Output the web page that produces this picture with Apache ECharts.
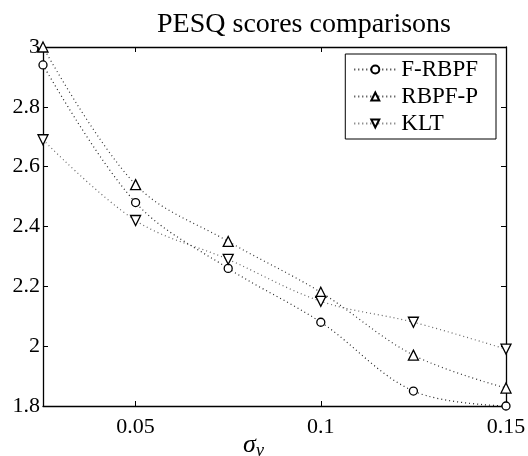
<!DOCTYPE html>
<html>
<head>
<meta charset="utf-8">
<script src="https://cdn.jsdelivr.net/npm/echarts@6/dist/echarts.min.js"></script>
<style>
  html, body { margin: 0; padding: 0; background: #fff; }
  #chart { width: 528px; height: 456px; }
</style>
</head>
<body>
<div id="chart"></div>
<script>
// noise std values on the x axis
const sigmaV = [0.025, 0.05, 0.075, 0.1, 0.125, 0.15];
// PESQ scores
const fRbpf = [2.94, 2.48, 2.26, 2.08, 1.85, 1.80];
const rbpfP = [3.00, 2.54, 2.35, 2.18, 1.97, 1.86];
const klt = [2.69, 2.42, 2.29, 2.15, 2.08, 1.99];
const xTicks = [0.05, 0.1, 0.15];

const serif = '"Liberation Serif", "DejaVu Serif", serif';
const downTri = 'path://M0,0 L10,0 L5,9 Z';

function pairs (ys) {
  return sigmaV.map((x, i) => [x, ys[i]]);
}

function mkSeries (name, ys, symbol, color) {
  return {
    name: name,
    type: 'line',
    data: pairs(ys),
    smooth: 0.35,
    clip: false,
    symbol: symbol,
    symbolSize: symbol === 'circle' ? 8 : 10,
    showAllSymbol: true,
    lineStyle: { color: color, width: 1.2, type: [1, 3] },
    itemStyle: { color: '#fff', borderColor: '#000', borderWidth: 1.3 }
  };
}

const chart = echarts.init(document.getElementById('chart'));
const option = {
  animation: false,
  backgroundColor: '#fff',
  textStyle: { fontFamily: serif },
  title: {
    text: 'PESQ scores comparisons',
    left: 299,
    textAlign: 'center',
    top: 6,
    textStyle: { fontFamily: serif, fontSize: 28, fontWeight: 'normal', color: '#000' }
  },
  grid: { left: 43, right: 22, top: 47, bottom: 50, outerBoundsMode: 'none' },
  legend: {
    orient: 'vertical',
    right: 32,
    top: 54,
    padding: [3, 18, 3, 8],
    itemGap: 2,
    itemWidth: 42,
    itemHeight: 10,
    backgroundColor: '#fff',
    borderColor: '#000',
    borderWidth: 1,
    borderRadius: 0,
    textStyle: { fontFamily: serif, fontSize: 23, color: '#000', lineHeight: 25 },
    data: ['F-RBPF', 'RBPF-P', 'KLT']
  },
  xAxis: [
    {
      type: 'value',
      min: 0.025,
      max: 0.15,
      position: 'bottom',
      name: '{a|σ}{b|v}',
      nameLocation: 'middle',
      nameGap: 24,
      nameMoveOverlap: false,
      nameTextStyle: {
        padding: [0, 42, 0, 0],
        rich: {
          a: { fontFamily: serif, fontStyle: 'italic', fontSize: 26, color: '#000' },
          b: { fontFamily: serif, fontStyle: 'italic', fontSize: 18, color: '#000', padding: [12, 0, 0, 0] }
        }
      },
      axisLine: { lineStyle: { color: '#000', width: 1.3 } },
      axisTick: { inside: true, length: 5, customValues: xTicks, lineStyle: { color: '#000' } },
      axisLabel: { customValues: xTicks, fontFamily: serif, fontSize: 22, color: '#000', margin: 10 },
      splitLine: { show: false }
    },
    {
      type: 'value',
      min: 0.025,
      max: 0.15,
      position: 'top',
      axisLine: { lineStyle: { color: '#000', width: 1.3 } },
      axisTick: { inside: true, length: 5, customValues: xTicks, lineStyle: { color: '#000' } },
      axisLabel: { show: false },
      splitLine: { show: false }
    }
  ],
  yAxis: [
    {
      type: 'value',
      min: 1.8,
      max: 3,
      interval: 0.2,
      position: 'left',
      axisLine: { show: true, lineStyle: { color: '#000', width: 1.3 } },
      axisTick: { show: true, inside: true, length: 5, lineStyle: { color: '#000' } },
      axisLabel: {
        fontFamily: serif, fontSize: 22, color: '#000', margin: 3,
        formatter: v => String(Math.round(v * 10) / 10)
      },
      splitLine: { show: false }
    },
    {
      type: 'value',
      min: 1.8,
      max: 3,
      interval: 0.2,
      position: 'right',
      axisLine: { show: true, lineStyle: { color: '#000', width: 1.3 } },
      axisTick: { show: true, inside: true, length: 5, lineStyle: { color: '#000' } },
      axisLabel: { show: false },
      splitLine: { show: false }
    }
  ],
  series: [
    mkSeries('F-RBPF', fRbpf, 'circle', '#222'),
    mkSeries('RBPF-P', rbpfP, 'triangle', '#333'),
    mkSeries('KLT', klt, downTri, '#666')
  ]
};
chart.setOption(option);
</script>
</body>
</html>
